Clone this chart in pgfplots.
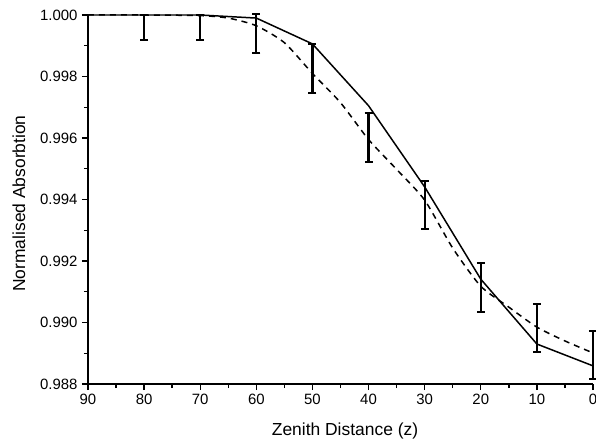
\documentclass[border=0pt]{standalone}
\usepackage{fontspec}
\setmainfont{Liberation Sans}
\usepackage{pgfplots}
\pgfplotsset{compat=1.18}
\begin{document}
\begin{tikzpicture}
\begin{axis}[
  at={(0,0)}, anchor=south west,
  scale only axis,
  width=505bp, height=369bp,
  x dir=reverse,
  xmin=0, xmax=90, ymin=0.988, ymax=1.000,
  axis lines=left,
  axis line style={-, line width=1.8pt},
  clip=false,
  xtick={0,10,...,90},
  minor xtick={5,15,...,85},
  ytick={0.988,0.990,0.992,0.994,0.996,0.998,1.000},
  minor ytick={0.989,0.991,0.993,0.995,0.997,0.999},
  tick align=outside,
  major tick length=6bp,
  minor tick length=4bp,
  tick style={line width=1.4pt, black},
  scaled y ticks=false,
  yticklabel style={/pgf/number format/fixed, /pgf/number format/fixed zerofill, /pgf/number format/precision=3, xshift=-1bp},
  /pgf/number format/assume math mode=true,
  ticklabel style={font=\fontsize{15}{17}\selectfont},
  xticklabel style={yshift=-1bp},
]
% solid line
\addplot[black, line width=1.5pt, mark=none] coordinates {
  (90,1.0000) (80,1.0000) (70,1.0000) (60,0.99990) (50,0.99906)
  (40,0.99705) (30,0.99441) (20,0.99141) (10,0.98930) (0,0.98859)
};
% dashed line
\addplot[black, line width=1.5pt, mark=none, dash pattern=on 6bp off 5bp, smooth, tension=0.4] coordinates {
  (90,1.0000) (80,1.0000) (70,0.99998) (65,0.99990) (60,0.99965) (55,0.99910)
  (50,0.99810) (45,0.99715) (40,0.99595) (35,0.99498) (30,0.99398)
  (25,0.99242) (20,0.99118) (15,0.99050) (10,0.98985) (5,0.98940) (0,0.98901)
};
% error bars
\addplot[draw=none, mark=none,
  error bars/.cd, y dir=both, y explicit,
  error bar style={draw=black, solid, line width=2.2pt},
  error mark options={draw=black, rotate=90, mark size=4bp, line width=2pt}]
  coordinates {
  (80,0.999595) +- (0,0.000405)
  (70,0.999595) +- (0,0.000405)
  (60,0.999395) +- (0,0.000635)
  (50,0.998260) +- (0,0.000800)
  (40,0.996015) +- (0,0.000795)
  (30,0.993820) +- (0,0.000780)
  (20,0.991135) +- (0,0.000795)
  (10,0.989820) +- (0,0.000780)
  (0,0.988940) +- (0,0.000780)
};
\end{axis}
\node[font=\fontsize{17.5}{20}\selectfont] at (257bp,-47bp) {Zenith Distance (z)};
\node[rotate=90, font=\fontsize{17.5}{20}\selectfont] at (-69bp,180.5bp) {Normalised Absorbtion};
\pgfresetboundingbox
\path[use as bounding box] (-88bp,-56bp) rectangle (508bp,384bp);
\end{tikzpicture}
\end{document}
